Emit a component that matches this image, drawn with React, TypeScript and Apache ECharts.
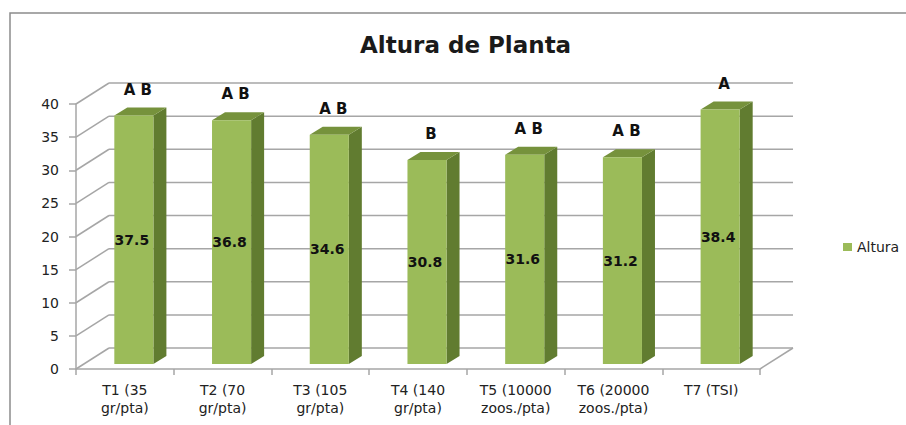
import React, { useEffect, useRef } from "react";
import * as echarts from "echarts";

const categories = [
  "T1 (35\ngr/pta)",
  "T2 (70\ngr/pta)",
  "T3 (105\ngr/pta)",
  "T4 (140\ngr/pta)",
  "T5 (10000\nzoos./pta)",
  "T6 (20000\nzoos./pta)",
  "T7 (TSI)",
];
const alturaValues = [37.5, 36.8, 34.6, 30.8, 31.6, 31.2, 38.4];
const letters = ["A B", "A B", "A B", "B", "A B", "A B", "A"];
const yTicks = [0, 5, 10, 15, 20, 25, 30, 35, 40];

const FONT = '"DejaVu Sans", sans-serif';
const GRID_COLOR = "#a6a6a6";
const DX = 33;
const DY = 21;

export default function App() {
  const ref = useRef<HTMLDivElement>(null);
  useEffect(() => {
    if (!ref.current) return;
    const chart = echarts.init(ref.current, null, { renderer: "svg" });
    const option: any = {
      animation: false,
      backgroundColor: "#ffffff",
      title: {
        text: "Altura de Planta",
        left: 355,
        top: 28,
        textStyle: { fontFamily: FONT, fontSize: 23, fontWeight: "bold", color: "#1a1a1a" },
      },
      legend: {
        data: [{ name: "Altura", icon: "rect" }],
        left: 838,
        top: 235,
        itemWidth: 9,
        itemHeight: 8,
        textStyle: { fontFamily: FONT, fontSize: 14, color: "#222" },
      },
      graphic: [
        {
          type: "rect",
          shape: { x: 10, y: 13, width: 1000, height: 600 },
          style: { fill: "none", stroke: "#8c8c8c", lineWidth: 1.5 },
          silent: true,
        },
      ],
      grid: { left: 76, right: 146, top: 104, bottom: 56 },
      xAxis: {
        type: "category",
        data: categories,
        axisLine: { show: true, lineStyle: { color: GRID_COLOR, width: 1.5 } },
        axisTick: { show: true, length: 6, lineStyle: { color: GRID_COLOR, width: 1.5 } },
        axisLabel: {
          interval: 0,
          margin: 12,
          fontFamily: FONT,
          fontSize: 14,
          lineHeight: 18,
          color: "#222",
        },
        splitLine: { show: false },
      },
      yAxis: {
        type: "value",
        min: 0,
        max: 40,
        interval: 5,
        axisLine: { show: true, lineStyle: { color: GRID_COLOR, width: 1.5 } },
        axisTick: { show: true, length: 7, lineStyle: { color: GRID_COLOR, width: 1.5 } },
        axisLabel: { margin: 17, fontFamily: FONT, fontSize: 14, color: "#222" },
        splitLine: { show: false },
      },
      series: [
        {
          type: "custom",
          name: "walls",
          silent: true,
          data: yTicks.map((v) => [0, v]),
          renderItem: (params: any, api: any) => {
            const v = api.value(1);
            const y = api.coord([0, v])[1];
            const cs = params.coordSys;
            const x0 = cs.x;
            const x1 = cs.x + cs.width;
            const ls = { stroke: GRID_COLOR, lineWidth: 1.5 };
            const children: any[] = [
              { type: "line", shape: { x1: x0, y1: y, x2: x0 + DX, y2: y - DY }, style: ls },
              { type: "line", shape: { x1: x0 + DX, y1: y - DY, x2: x1 + DX, y2: y - DY }, style: ls },
            ];
            if (v === 0) {
              children.push({ type: "line", shape: { x1: x1, y1: y, x2: x1 + DX, y2: y - DY }, style: ls });
            }
            return { type: "group", children };
          },
          z: 1,
        },
        {
          type: "custom",
          name: "Altura",
          itemStyle: { color: "#9bbb59" },
          data: alturaValues.map((v, i) => [i, v]),
          renderItem: (params: any, api: any) => {
            const i = api.value(0);
            const v = api.value(1);
            const base = api.coord([i, 0]);
            const top = api.coord([i, v]);
            const band = api.size([1, 0])[0];
            const w = band * 0.4;
            const fx = base[0] - w / 2 + 9;
            const by = base[1] - 5;
            const ty = top[1] - 5;
            const sx = 13;
            const sy = 8;
            return {
              type: "group",
              children: [
                {
                  type: "polygon",
                  shape: { points: [[fx + w, by], [fx + w + sx, by - sy], [fx + w + sx, ty - sy], [fx + w, ty]] },
                  style: { fill: "#617c30" },
                },
                {
                  type: "polygon",
                  shape: { points: [[fx, ty], [fx + sx, ty - sy], [fx + w + sx, ty - sy], [fx + w, ty]] },
                  style: { fill: "#76923c" },
                },
                {
                  type: "rect",
                  shape: { x: fx, y: ty, width: w, height: by - ty },
                  style: { fill: "#9bbb59" },
                },
                {
                  type: "text",
                  x: fx + w / 2 - 2,
                  y: (by + ty) / 2,
                  style: {
                    text: v.toFixed(1),
                    fill: "#111",
                    font: `bold 14px ${FONT}`,
                    align: "center",
                    verticalAlign: "middle",
                  },
                },
                {
                  type: "text",
                  x: fx + w / 2 + 4,
                  y: ty - sy - 18,
                  style: {
                    text: letters[i],
                    fill: "#111",
                    font: `bold 15px ${FONT}`,
                    align: "center",
                    verticalAlign: "middle",
                  },
                },
              ],
            };
          },
          z: 2,
        },
      ],
    };
    chart.setOption(option);
    return () => chart.dispose();
  }, []);
  return (
    <div
      ref={ref}
      style={{ position: "fixed", left: 0, top: 0, width: 906, height: 425 }}
    />
  );
}
